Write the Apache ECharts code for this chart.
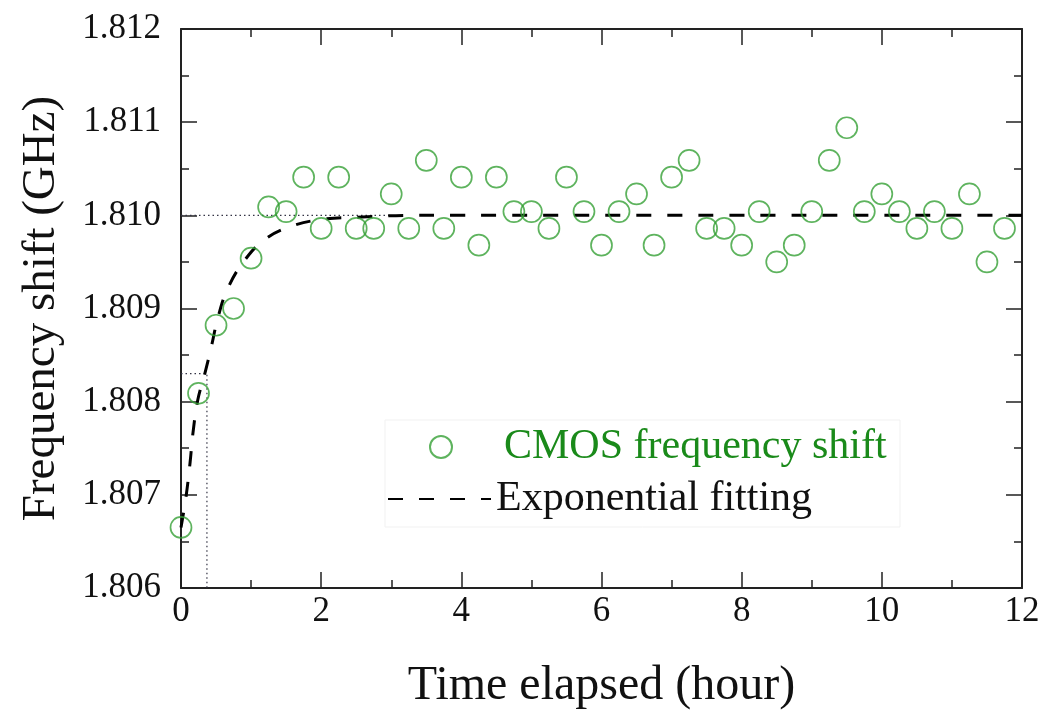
<!DOCTYPE html>
<html>
<head>
<meta charset="utf-8">
<script src="https://cdn.jsdelivr.net/npm/echarts@6/dist/echarts.min.js"></script>
<style>
html,body{margin:0;padding:0;background:#fff;}
#chart{width:1043px;height:717px;}
</style>
</head>
<body>
<div id="chart"></div>
<script>
// Measured data (hours, GHz)
const timeHours = [0, 0.25, 0.5, 0.75, 1, 1.25, 1.5, 1.75, 2, 2.25, 2.5, 2.75,
  3, 3.25, 3.5, 3.75, 4, 4.25, 4.5, 4.75, 5, 5.25, 5.5, 5.75,
  6, 6.25, 6.5, 6.75, 7, 7.25, 7.5, 7.75, 8, 8.25, 8.5, 8.75,
  9, 9.25, 9.5, 9.75, 10, 10.25, 10.5, 10.75, 11, 11.25, 11.5, 11.75];
const cmosShift = [1.80665, 1.80809, 1.80882, 1.80900, 1.80954, 1.81009, 1.81004, 1.81041, 1.80986, 1.81041, 1.80986, 1.80986,
  1.81023, 1.80986, 1.81059, 1.80986, 1.81041, 1.80968, 1.81041, 1.81004, 1.81004, 1.80986, 1.81041, 1.81004,
  1.80968, 1.81004, 1.81023, 1.80968, 1.81041, 1.81059, 1.80986, 1.80986, 1.80968, 1.81004, 1.80950, 1.80968,
  1.81004, 1.81059, 1.81094, 1.81004, 1.81023, 1.81004, 1.80986, 1.81004, 1.80986, 1.81023, 1.80950, 1.80986];

// Exponential fit curve
const fitTime  = [0, 0.07, 0.13, 0.17, 0.24, 0.34, 0.43, 0.53, 0.67, 0.91, 1.21, 1.6, 2.05, 2.51, 3.38, 12];
const fitValue = [1.80665, 1.80697, 1.80735, 1.80766, 1.80802, 1.80830, 1.80858, 1.80891, 1.80922, 1.80952, 1.80975, 1.80989, 1.80996, 1.80998, 1.81000, 1.81000];

// Dotted guide lines
const tauGuideX = [0, 0.37, 0.37];
const tauGuideY = [1.8083, 1.8083, 1.806];
const plateauGuideX = [0, 3];
const plateauGuideY = [1.810, 1.810];

// Axis ticks
const xTicks = {min: 0, max: 12, interval: 2};
const yTicks = {min: 1.806, max: 1.812, interval: 0.001};

const seriesNames = ['CMOS frequency shift', 'Exponential fitting'];

const zip = (a, b) => a.map((v, i) => [v, b[i]]);

const FONT = '"Liberation Serif", "DejaVu Serif", serif';
const AXC = '#222';

const chart = echarts.init(document.getElementById('chart'), null, {renderer: 'canvas'});

const baseAxis = {
  axisLine: {show: true, onZero: false, lineStyle: {color: AXC, width: 2}},
  axisTick: {show: true, inside: true, length: 16, lineStyle: {color: AXC, width: 1.5}},
  minorTick: {show: true, splitNumber: 2, length: 8, lineStyle: {color: AXC, width: 1.5}},
  splitLine: {show: false}
};

chart.setOption({
  animation: false,
  backgroundColor: '#fff',
  grid: {left: 181, right: 21, top: 29, bottom: 129},
  xAxis: [
    Object.assign({}, baseAxis, {
      type: 'value', position: 'bottom',
      min: xTicks.min, max: xTicks.max, interval: xTicks.interval,
      name: 'Time elapsed (hour)', nameLocation: 'middle', nameGap: 74,
      nameTextStyle: {fontFamily: FONT, fontSize: 48, color: '#111'},
      axisLabel: {fontFamily: FONT, fontSize: 35, color: '#111', margin: 6}
    }),
    Object.assign({}, baseAxis, {
      type: 'value', position: 'top',
      min: xTicks.min, max: xTicks.max, interval: xTicks.interval,
      axisLabel: {show: false}
    })
  ],
  yAxis: [
    Object.assign({}, baseAxis, {
      type: 'value', position: 'left',
      min: yTicks.min, max: yTicks.max, interval: yTicks.interval,
      name: 'Frequency shift (GHz)', nameLocation: 'middle', nameGap: 116,
      nameTextStyle: {fontFamily: FONT, fontSize: 47, color: '#111'},
      axisLabel: {fontFamily: FONT, fontSize: 35, color: '#111', margin: 20,
        formatter: v => v.toFixed(3)}
    }),
    Object.assign({}, baseAxis, {
      type: 'value', position: 'right',
      min: yTicks.min, max: yTicks.max, interval: yTicks.interval,
      axisLabel: {show: false}
    })
  ],
  legend: [
    {
      data: [seriesNames[0]], left: 429, top: 426, orient: 'vertical',
      itemWidth: 116, itemHeight: 22, selectedMode: false, padding: 0,
      textStyle: {fontFamily: FONT, fontSize: 42, color: '#1a8a1a'}
    },
    {
      data: [seriesNames[1]], left: 387, top: 478, orient: 'vertical',
      itemWidth: 103, itemHeight: 22, selectedMode: false, padding: 0,
      itemStyle: {color: 'rgba(0,0,0,0)', borderColor: 'rgba(0,0,0,0)', borderWidth: 0},
      textStyle: {fontFamily: FONT, fontSize: 42, color: '#111'}
    }
  ],
  graphic: [{
    type: 'rect', shape: {x: 385, y: 420, width: 515, height: 107},
    style: {fill: 'none', stroke: '#f1f1f1', lineWidth: 1}, silent: true, z: 0
  }],
  series: [
    {
      name: 'tau guide', type: 'line', data: zip(tauGuideX, tauGuideY),
      symbol: 'none', silent: true,
      lineStyle: {color: '#334', width: 1.2, type: [1.5, 3]}, z: 1
    },
    {
      name: 'plateau guide', type: 'line', data: zip(plateauGuideX, plateauGuideY),
      symbol: 'none', silent: true,
      lineStyle: {color: '#334', width: 1.2, type: [1.5, 3]}, z: 1
    },
    {
      name: seriesNames[1], type: 'line', data: zip(fitTime, fitValue),
      symbol: 'none', smooth: 0.4, z: 3,
      itemStyle: {color: '#000'},
      lineStyle: {color: '#000', width: 3, type: [15, 16]}
    },
    {
      name: seriesNames[0], type: 'scatter', data: zip(timeHours, cmosShift),
      symbol: 'circle', symbolSize: 21, z: 4,
      itemStyle: {color: 'rgba(0,0,0,0)', borderColor: '#36a036', borderWidth: 1.7}
    }
  ]
});
</script>
</body>
</html>
